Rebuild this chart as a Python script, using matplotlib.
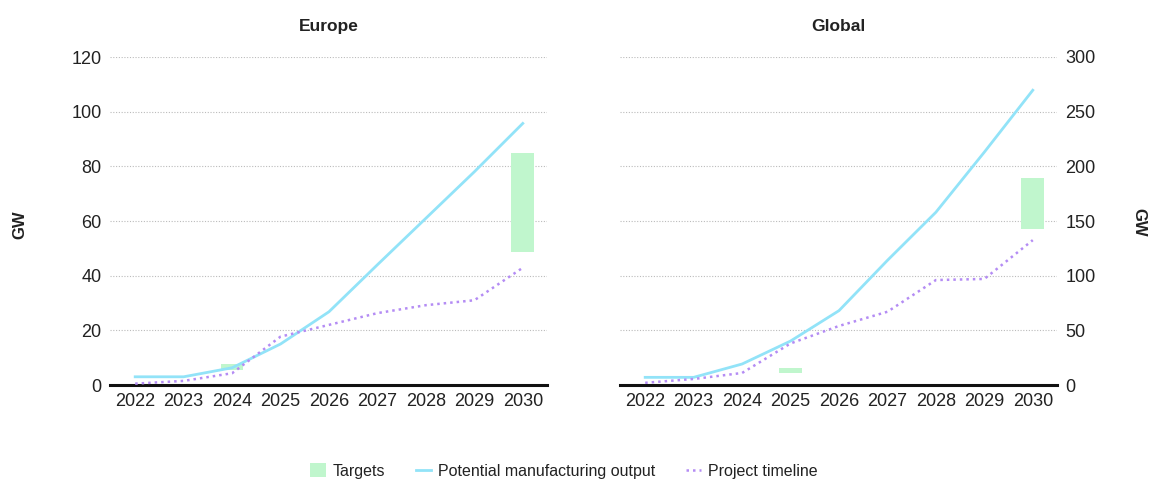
import matplotlib
matplotlib.use("Agg")
import matplotlib.pyplot as plt
from matplotlib.patches import Patch
from matplotlib.lines import Line2D

plt.rcParams["font.family"] = ["Liberation Sans", "DejaVu Sans"]

YEARS = [2022, 2023, 2024, 2025, 2026, 2027, 2028, 2029, 2030]

EU_POTENTIAL = [3.0, 3.0, 6.3, 15.0, 26.8, 44.0, 61.0, 78.0, 95.7]
EU_PROJECT = [0.5, 1.5, 4.3, 17.7, 22.0, 26.3, 29.2, 31.0, 42.9]
EU_TARGET_YEARS = [2024, 2030]
EU_TARGET_LOW = [5.5, 48.7]
EU_TARGET_HIGH = [7.7, 84.7]

GL_POTENTIAL = [7.0, 7.0, 19.2, 40.2, 68.0, 114.0, 158.0, 213.0, 269.6]
GL_PROJECT = [2.0, 5.5, 11.0, 38.0, 54.0, 67.0, 96.0, 97.0, 132.5]
GL_TARGET_YEARS = [2025, 2030]
GL_TARGET_LOW = [11.3, 143.0]
GL_TARGET_HIGH = [15.2, 189.5]

BLUE = "#92E3F8"
PURPLE = "#B48CF4"
GREEN = "#C0F6CD"
TEXT = "#222222"


def draw_panel(ax, title, potential, project, t_years, t_low, t_high, ymax, step):
    ax.bar(t_years, [h - l for l, h in zip(t_low, t_high)], bottom=t_low,
           width=0.47, color=GREEN, zorder=2)
    ax.plot(YEARS, potential, color=BLUE, lw=2.0, zorder=3)
    ax.plot(YEARS, project, color=PURPLE, lw=1.8, ls=(0, (1, 1.6)), zorder=4)
    ax.set_xlim(2021.48, 2030.5)
    ax.set_ylim(0, ymax)
    ax.set_yticks(range(0, ymax + 1, step))
    ax.set_xticks(YEARS)
    ax.grid(axis="y", color="#BBBBBB", ls=(0, (1, 1.5)), lw=0.8)
    ax.set_axisbelow(True)
    for s in ["top", "right", "left"]:
        ax.spines[s].set_visible(False)
    ax.spines["bottom"].set_linewidth(2.2)
    ax.spines["bottom"].set_color("#111111")
    ax.tick_params(length=0, labelsize=13, colors=TEXT, pad=6)
    ax.set_title(title, fontsize=12.5, fontweight="bold", color=TEXT, pad=19)


fig = plt.figure(figsize=(11.5, 4.8), dpi=100)
ax1 = fig.add_axes([110 / 1150, 1 - 385 / 480, 437 / 1150, 328 / 480])
ax2 = fig.add_axes([620 / 1150, 1 - 385 / 480, 437 / 1150, 328 / 480])

draw_panel(ax1, "Europe", EU_POTENTIAL, EU_PROJECT,
           EU_TARGET_YEARS, EU_TARGET_LOW, EU_TARGET_HIGH, 120, 20)
draw_panel(ax2, "Global", GL_POTENTIAL, GL_PROJECT,
           GL_TARGET_YEARS, GL_TARGET_LOW, GL_TARGET_HIGH, 300, 50)
ax2.yaxis.tick_right()

fig.text(20 / 1150, 1 - 225 / 480, "GW", rotation=90, ha="center", va="center",
         fontsize=12, fontweight="bold", color=TEXT)
fig.text(1139 / 1150, 1 - 222 / 480, "GW", rotation=270, ha="center", va="center",
         fontsize=12, fontweight="bold", color=TEXT)

handles = [
    Patch(facecolor=GREEN, edgecolor="none"),
    Line2D([], [], color=BLUE, lw=2.0),
    Line2D([], [], color=PURPLE, lw=1.8, ls=(0, (1, 1.6))),
]
labels = ["Targets", "Potential manufacturing output", "Project timeline"]
fig.legend(handles, labels, loc="center", bbox_to_anchor=(564 / 1150, 1 - 471 / 480),
           ncol=3, frameon=False, fontsize=11.5, handlelength=0.95, handleheight=0.95,
           handletextpad=0.45, columnspacing=1.9, labelcolor=TEXT)

fig.savefig("out.png", dpi=100)
